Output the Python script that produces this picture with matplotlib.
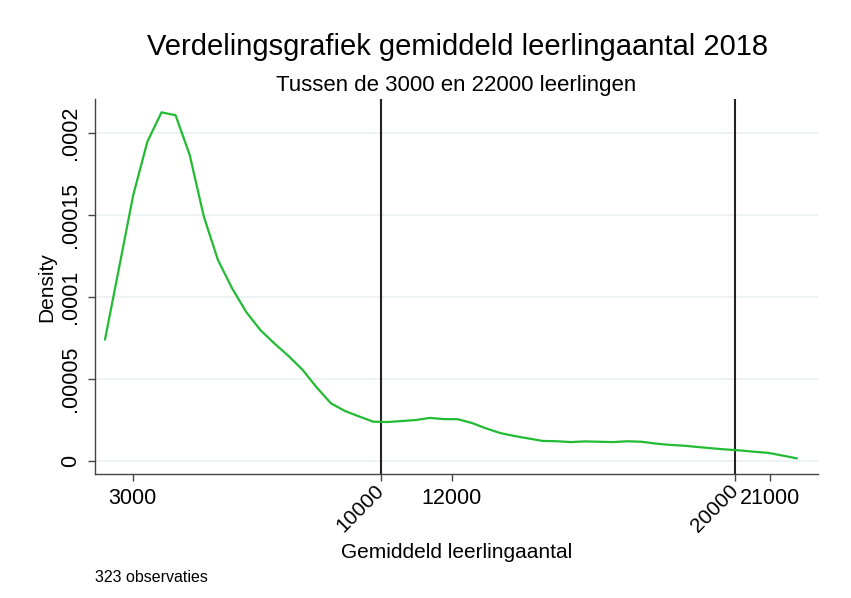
import matplotlib
matplotlib.use("Agg")
import matplotlib.pyplot as plt

plt.rcParams['font.family'] = ['Liberation Sans', 'DejaVu Sans']

# Kernel density estimate grid (leerlingaantal) and density values
x_vals = [2219, 2617, 3016, 3414, 3813, 4211, 4609, 5008, 5406, 5805,
          6203, 6602, 7000, 7398, 7797, 8195, 8594, 8992, 9390, 9789,
          10187, 10586, 10984, 11382, 11781, 12179, 12578, 12976, 13374, 13773,
          14171, 14570, 14968, 15367, 15765, 16163, 16562, 16960, 17359, 17757,
          18155, 18554, 18952, 19351, 19749, 20147, 20546, 20944, 21343, 21741]
density = [7.42e-5, 1.18e-4, 1.621e-4, 1.945e-4, 2.124e-4, 2.106e-4, 1.864e-4, 1.489e-4, 1.225e-4, 1.053e-4,
           9.09e-5, 7.99e-5, 7.17e-5, 6.41e-5, 5.56e-5, 4.49e-5, 3.53e-5, 3.06e-5, 2.73e-5, 2.41e-5,
           2.39e-5, 2.45e-5, 2.51e-5, 2.64e-5, 2.57e-5, 2.56e-5, 2.33e-5, 2.00e-5, 1.72e-5, 1.54e-5,
           1.39e-5, 1.24e-5, 1.22e-5, 1.17e-5, 1.21e-5, 1.19e-5, 1.17e-5, 1.22e-5, 1.19e-5, 1.08e-5,
           1.00e-5, 9.5e-6, 8.7e-6, 7.9e-6, 7.2e-6, 6.6e-6, 5.8e-6, 5.1e-6, 3.5e-6, 1.8e-6]

x_ticks = [3000, 10000, 12000, 20000, 21000]
x_tick_labels = ['3000', '10000', '12000', '20000', '21000']
rotated_ticks = ['10000', '20000']
y_ticks = [0, 0.00005, 0.0001, 0.00015, 0.0002]
y_tick_labels = ['0', '.00005', '.0001', '.00015', '.0002']
ref_lines = [10000, 20000]

title = 'Verdelingsgrafiek gemiddeld leerlingaantal 2018'
subtitle = 'Tussen de 3000 en 22000 leerlingen'
xlabel = 'Gemiddeld leerlingaantal'
ylabel = 'Density'
note = '323 observaties'

fig = plt.figure(figsize=(8.51, 5.98), dpi=100)
ax = fig.add_axes([95/851, (598-474)/598, (818-95)/851, (474-99)/598])

ax.set_xlim(1936, 22343)
ax.set_ylim(-7.73e-6, 2.205e-4)

for yt in y_ticks:
    ax.axhline(yt, color='#eaf1f2', lw=1.2, zorder=0)

ax.plot(x_vals, density, color='#22bb33', lw=1.6, zorder=3)

for xl in ref_lines:
    ax.axvline(xl, color='#222222', lw=1.5, zorder=2)

ax.set_yticks(y_ticks)
ax.set_yticklabels(y_tick_labels, rotation=90, va='center', fontsize=15.5)
ax.set_xticks(x_ticks)
ax.set_xticklabels(x_tick_labels, fontsize=15.5)
for lab in ax.get_xticklabels():
    if lab.get_text() in rotated_ticks:
        lab.set_rotation(45)
        lab.set_ha('right')
        lab.set_va('center')
        lab.set_rotation_mode('anchor')
        lab.set_fontsize(15)

ax.tick_params(axis='both', direction='out', length=5, width=1, color='#444444', pad=5)

for s in ['top', 'right']:
    ax.spines[s].set_visible(False)
for s in ['left', 'bottom']:
    ax.spines[s].set_color('#444444')
    ax.spines[s].set_linewidth(1.0)

fig.text(47/851, 1 - 287/598, ylabel, rotation=90, ha='center', va='center', fontsize=15)
fig.text(457/851, 1 - 552/598, xlabel, ha='center', va='center', fontsize=15)
fig.text(458/851, 1 - 47/598, title, ha='center', va='center', fontsize=21)
fig.text(456/851, 1 - 86/598, subtitle, ha='center', va='center', fontsize=16)
fig.text(95/851, 1 - 578/598, note, ha='left', va='center', fontsize=11.5)

fig.savefig('out.png', dpi=100, facecolor='white')
